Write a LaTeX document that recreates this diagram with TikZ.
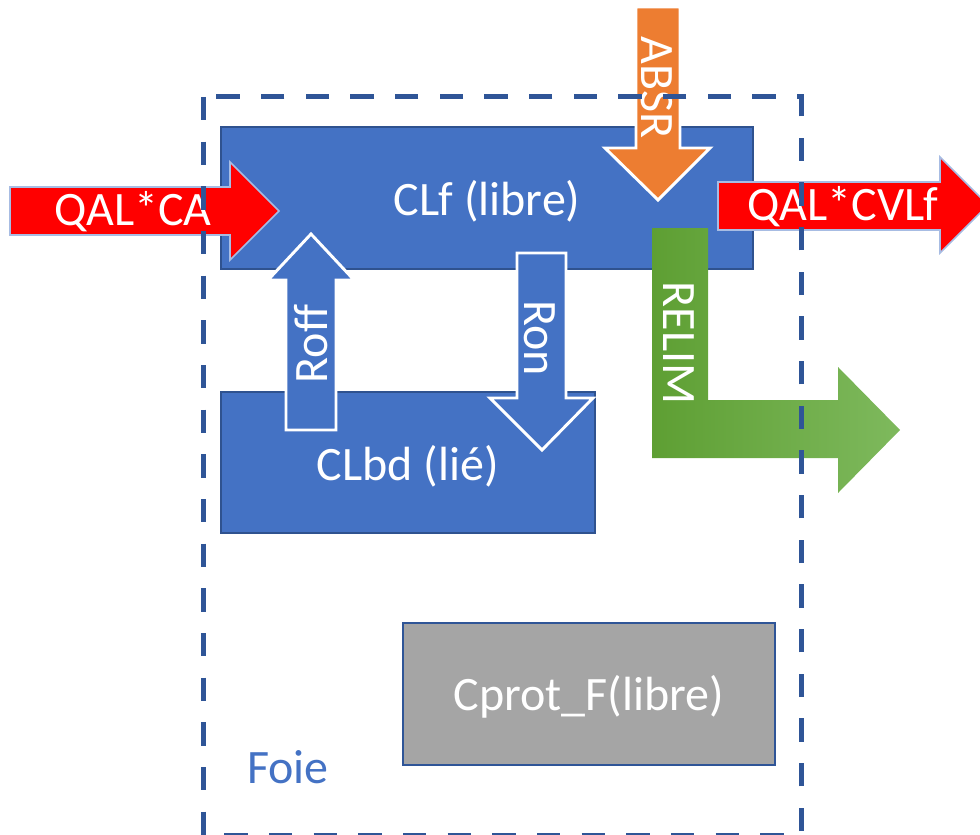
\documentclass[tikz,border=0pt]{standalone}
\usepackage{fontspec}
\setmainfont{Carlito}
\definecolor{boxblue}{HTML}{4472C4}
\definecolor{boxedge}{HTML}{2F528F}
\definecolor{dashblue}{HTML}{2F5597}
\definecolor{flowred}{HTML}{FF0000}
\definecolor{flowedge}{HTML}{A7BCE3}
\definecolor{absorange}{HTML}{ED7D31}
\definecolor{greyfill}{HTML}{A5A5A5}
\definecolor{relimdark}{HTML}{5E9F33}
\definecolor{relimlight}{HTML}{7EB95D}
\begin{document}
\begin{tikzpicture}[x=0.75pt,y=-0.75pt,
  lbl/.style={text=white,font=\fontsize{36}{43}\selectfont,inner sep=0pt},
  compbox/.style={draw=boxedge,line width=1.1pt,fill=boxblue,inner sep=0pt},
  protbox/.style={draw=dashblue,line width=1.6pt,fill=greyfill,inner sep=0pt},
  redflow/.style={fill=flowred,draw=flowedge,line width=1.2pt,line join=miter},
  bluearrow/.style={fill=boxblue,draw=white,line width=2.2pt,line join=miter},
  orangearrow/.style={fill=absorange,draw=white,line width=2.2pt,line join=miter},
  organ/.style={draw=dashblue,line width=3.75pt,dash pattern=on 17.5pt off 16pt}]
\useasboundingbox (0,0) rectangle (980,834);

% compartments
\node[compbox,minimum width=399pt,minimum height=106.5pt] (clfbox) at (487,198) {};
\node[lbl] (clf) at (487,201) {CLf (libre)};
\node[compbox,minimum width=280.5pt,minimum height=105.75pt] (clbdbox) at (408,462.5) {};
\node[lbl] (clbd) at (408,466) {CLbd (lié)};
\node[protbox,minimum width=279pt,minimum height=106.5pt] (cprotbox) at (589,694) {};
\node[lbl] (cprot) at (589,697) {Cprot\_F(libre)};

% elimination (bent green arrow)
\shade[left color=relimdark,right color=relimlight]
  (652,228) -- (708,228) -- (708,400) -- (838,400) -- (838,367) -- (900,430)
  -- (838,493) -- (838,458) -- (652,458) -- cycle;
\node[lbl,rotate=-90] (relim) at (679,343) {RELIM};

% inflow
\draw[redflow] (10,187) -- (230,187) -- (230,162) -- (279,211) -- (230,260)
  -- (230,235) -- (10,235) -- cycle;
\node[lbl] (qalca) at (133,212) {QAL*CA};

% outflow
\draw[redflow] (718,182) -- (940,182) -- (940,157) -- (988,205) -- (940,253)
  -- (940,230) -- (718,230) -- cycle;
\node[lbl] (qalcvlf) at (843,207) {QAL*CVLf};

% absorption
\draw[orangearrow] (636,7) -- (680,7) -- (680,148) -- (710,148) -- (658,200)
  -- (605,148) -- (636,148) -- cycle;
\node[lbl,rotate=-90] (absr) at (657,88) {ABSR};

% binding exchanges
\draw[bluearrow] (286,430) -- (286,280) -- (268,280) -- (311,234) -- (354,280)
  -- (336,280) -- (336,430) -- cycle;
\node[lbl,rotate=90] (roff) at (311,344) {Roff};
\draw[bluearrow] (517,253) -- (566,253) -- (566,398) -- (593,398) -- (542,450)
  -- (490,398) -- (517,398) -- cycle;
\node[lbl,rotate=-90] (ron) at (540,338) {Ron};

% liver boundary
\draw[organ] (203,97) rectangle (801,835);
\node[text=boxblue,font=\fontsize{36}{43}\selectfont,inner sep=0pt] (foie) at (288,767) {Foie};
\end{tikzpicture}
\end{document}
